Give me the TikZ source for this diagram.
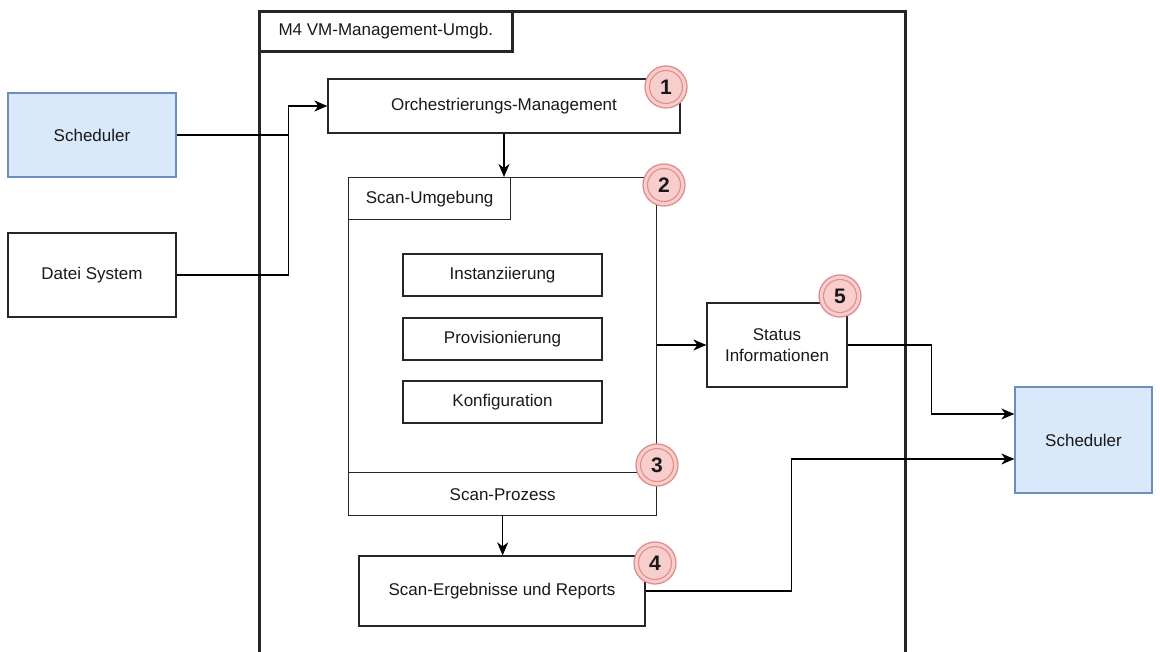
\documentclass[tikz,border=0pt]{standalone}
\usepackage{fontspec}
\setmainfont{Liberation Sans}
\usetikzlibrary{arrows.meta,calc}
\definecolor{blueFill}{HTML}{DAE8FC}
\definecolor{blueLine}{HTML}{6C8EBF}
\definecolor{redFill}{HTML}{F8CECC}
\definecolor{redLine}{HTML}{E08E8B}
\tikzset{
  every node/.style={font=\fontsize{17}{21}\selectfont, text=black!90},
  box/.style={draw=black!85, line width=1.3pt, fill=white, align=center, inner sep=0pt},
  bluebox/.style={box, draw=blueLine, fill=blueFill},
  frame/.style={draw=black!85, line width=2.6pt, inner sep=0pt},
  arr/.style={draw=black, line width=1.2pt, -{Stealth[length=13pt,width=11pt,inset=4pt]}},
  line/.style={draw=black, line width=1.2pt},
  badge/.style={circle, draw=redLine, fill=redFill, line width=1.3pt, minimum size=42pt,
    inner sep=0pt, font=\fontsize{21}{21}\selectfont\bfseries},
  ring/.style={draw=redLine, line width=1.1pt},
}
\begin{document}
\begin{tikzpicture}[x=1pt,y=-1pt]
\useasboundingbox (0,0) rectangle (1160,652);

% outer environment frame (runs past the lower page edge)
\node[frame, minimum width=646pt, minimum height=680pt, anchor=north west] (vm) at (258,10) {};
\node[frame, minimum width=253pt, minimum height=40pt, anchor=north west] (vmlabel) at (258,10) {M4 VM-Management-Umgb.};

% sources on the left
\node[bluebox, minimum width=168pt, minimum height=84pt] (sch1) at (92,135) {Scheduler};
\node[box, minimum width=168pt, minimum height=84pt] (datei) at (92,275) {Datei System};

% orchestration
\node[box, minimum width=352pt, minimum height=54pt] (orch) at (504,106) {Orchestrierungs-Management};

% scan environment container
\node[box, minimum width=308pt, minimum height=338pt, anchor=north west] (env) at (348,177) {};
\node[box, minimum width=162pt, minimum height=42pt, anchor=north west] (envlabel) at (348,177) {Scan-Umgebung};
\node[box, minimum width=199pt, minimum height=42pt] (inst) at (502.5,275) {Instanziierung};
\node[box, minimum width=199pt, minimum height=42pt] (prov) at (502.5,339) {Provisionierung};
\node[box, minimum width=199pt, minimum height=42pt] (konf) at (502.5,402) {Konfiguration};
\node[box, minimum width=308pt, minimum height=43pt, anchor=north west] (proc) at (348,472) {Scan-Prozess};

% results and status
\node[box, minimum width=286pt, minimum height=70pt] (res) at (502,591) {Scan-Ergebnisse und Reports};
\node[box, minimum width=140pt, minimum height=84pt] (status) at (777,345) {Status\\Informationen};

% target on the right
\node[bluebox, minimum width=137pt, minimum height=106pt] (sch2) at (1083.5,440) {Scheduler};

% connectors
\draw[arr] (sch1.east) -- ++(112,0) |- (orch.west);
\draw[line] (datei.east) -- ++(112,0) -- ($(sch1.east)+(112,0)$);
\draw[arr] (orch.south) -- (orch.south |- env.north);
\draw[arr] (env.east |- status.west) -- (status.west);
\draw[arr] (status.east) -- ++(84,0) |- ($(sch2.west)+(0,-26)$);
\draw[arr] (res.east) -- ++(146,0) |- ($(sch2.west)+(0,19)$);
\draw[arr] (proc.south) -- (proc.south |- res.north);

% numbered badges with an inner ring
\node[badge] (b1) at (666,87) {1};
\node[badge] (b2) at (664,185) {2};
\node[badge] (b3) at (657,465) {3};
\node[badge] (b4) at (655,563) {4};
\node[badge] (b5) at (840,296) {5};
\foreach \b in {b1,b2,b3,b4,b5}
  \draw[ring] (\b.center) circle (16.5pt);
\end{tikzpicture}
\end{document}
